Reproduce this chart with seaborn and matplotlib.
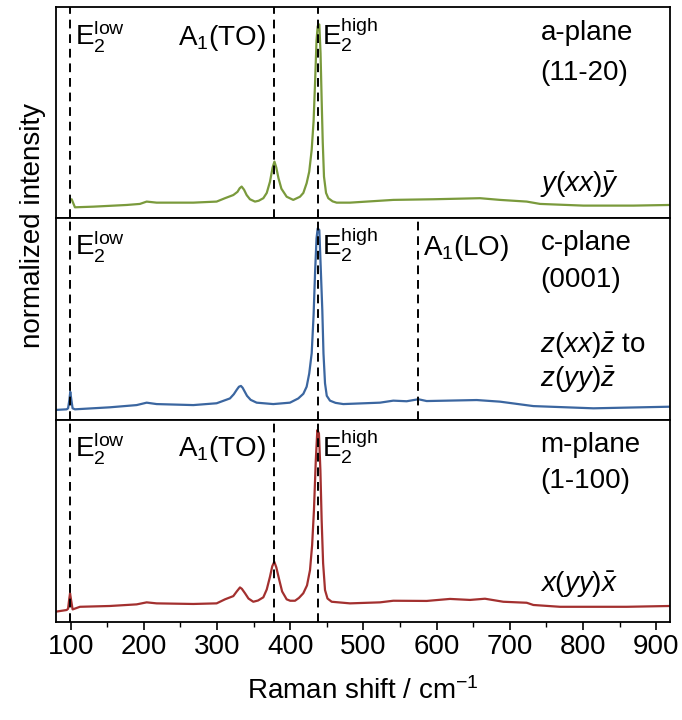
import matplotlib
matplotlib.use("Agg")
import matplotlib.pyplot as plt
import matplotlib.transforms as mtransforms
from matplotlib.ticker import MultipleLocator
import seaborn as sns

# spectra (x: Raman shift, y: fraction of panel height)
a_x = [101.4, 105.9, 130.9, 176.5, 194.7, 203.9, 217.5, 267.6, 299.5, 310.9, 322.3, 328.0,
       331.0, 333.7, 337.0, 340.5, 345.0, 351.9, 357.0, 363.3, 368.0, 372.4, 376.0, 378.5,
       381.0, 384.0, 388.0, 395.2, 404.2, 413.4, 418.0, 422.5, 426.0, 429.4, 432.0, 434.0,
       436.0, 437.6, 439.8, 441.5, 443.0, 444.5, 446.2, 449.0, 452.1, 458.0, 463.5, 481.7,
       541.0, 595.6, 659.4, 686.7, 723.2, 741.4, 800.6, 868.9, 918.0]
a_y = [0.090, 0.052, 0.055, 0.063, 0.068, 0.079, 0.074, 0.074, 0.079, 0.095, 0.110, 0.125,
       0.142, 0.150, 0.135, 0.110, 0.090, 0.079, 0.083, 0.095, 0.120, 0.173, 0.240, 0.268,
       0.240, 0.190, 0.140, 0.102, 0.087, 0.102, 0.120, 0.166, 0.220, 0.324, 0.460, 0.640,
       0.840, 0.908, 0.916, 0.780, 0.561, 0.360, 0.197, 0.120, 0.095, 0.080, 0.074, 0.074,
       0.087, 0.090, 0.095, 0.087, 0.079, 0.068, 0.060, 0.060, 0.063]

c_x = [80.0, 94.5, 96.5, 98.3, 99.5, 101.0, 102.7, 105.9, 153.7, 190.2, 203.9, 217.5,
       267.6, 299.5, 317.7, 323.0, 327.0, 330.0, 332.7, 335.0, 338.0, 341.0, 346.0, 354.2,
       376.9, 399.7, 411.1, 418.0, 422.5, 426.0, 429.4, 432.0, 434.0, 436.0, 437.6, 439.8,
       441.5, 443.9, 445.5, 447.6, 450.0, 454.4, 462.0, 472.6, 522.7, 540.9, 559.2, 575.1,
       586.5, 654.9, 686.7, 732.3, 814.3, 919.0]
c_y = [0.050, 0.053, 0.058, 0.100, 0.140, 0.100, 0.058, 0.053, 0.063, 0.074, 0.086, 0.079,
       0.074, 0.083, 0.107, 0.128, 0.150, 0.165, 0.169, 0.160, 0.140, 0.120, 0.100, 0.086,
       0.079, 0.086, 0.107, 0.130, 0.165, 0.230, 0.331, 0.520, 0.730, 0.900, 0.950, 0.942,
       0.780, 0.545, 0.330, 0.182, 0.120, 0.096, 0.085, 0.079, 0.086, 0.096, 0.093, 0.103,
       0.094, 0.099, 0.091, 0.069, 0.058, 0.066]

m_x = [80.0, 94.5, 96.5, 98.0, 99.2, 100.5, 102.7, 112.7, 153.7, 190.2, 203.9, 217.5,
       267.6, 299.5, 310.9, 322.3, 327.0, 331.4, 334.0, 338.3, 343.0, 349.6, 356.0, 363.3,
       368.0, 372.4, 375.5, 378.3, 381.0, 385.1, 389.0, 395.2, 400.0, 406.6, 412.0, 417.9,
       423.0, 427.1, 430.0, 432.5, 435.0, 437.1, 439.3, 441.3, 443.0, 445.0, 447.6, 451.0,
       456.7, 481.7, 522.7, 540.9, 586.5, 618.4, 645.7, 666.2, 691.2, 723.2, 732.3, 768.7,
       859.9, 919.0]
m_y = [0.050, 0.058, 0.064, 0.110, 0.141, 0.110, 0.061, 0.074, 0.078, 0.086, 0.096, 0.091,
       0.088, 0.091, 0.111, 0.127, 0.150, 0.170, 0.163, 0.141, 0.115, 0.099, 0.105, 0.121,
       0.160, 0.223, 0.275, 0.297, 0.270, 0.207, 0.150, 0.111, 0.104, 0.104, 0.118, 0.141,
       0.180, 0.256, 0.380, 0.554, 0.800, 0.950, 0.934, 0.750, 0.504, 0.290, 0.157, 0.115,
       0.099, 0.091, 0.096, 0.104, 0.103, 0.113, 0.108, 0.114, 0.099, 0.094, 0.083, 0.074,
       0.074, 0.078]

# mode positions (dashed lines)
a_modes = [99, 378, 438]
c_modes = [99, 438, 574]
m_modes = [99, 378, 438]

colors = ["#7a9a3c", "#3b66a0", "#a3302f"]

sns.set_style("ticks")
plt.rcParams["font.family"] = ["Liberation Sans", "DejaVu Sans"]
plt.rcParams["mathtext.fontset"] = "custom"
plt.rcParams["mathtext.rm"] = "Liberation Sans"
plt.rcParams["mathtext.it"] = "Liberation Sans:italic"
plt.rcParams["mathtext.bf"] = "Liberation Sans:bold"
plt.rcParams["text.color"] = "black"
plt.rcParams["axes.labelcolor"] = "black"
plt.rcParams["xtick.color"] = "black"
plt.rcParams["xtick.labelcolor"] = "black"

fs = 20
fig, axes = plt.subplots(3, 1, figsize=(6.82, 7.2), dpi=100, sharex=True,
                         gridspec_kw={"height_ratios": [211.6, 201.7, 201.7]})
fig.subplots_adjust(left=0.0821, right=0.9824, top=0.9907, bottom=0.1365, hspace=0)

panels = [(a_x, a_y, a_modes), (c_x, c_y, c_modes), (m_x, m_y, m_modes)]
for ax, (xs, ys, modes), col in zip(axes, panels, colors):
    sns.lineplot(x=xs, y=ys, ax=ax, color=col, lw=1.6, sort=False)
    for m in modes:
        ax.axvline(m, color="black", lw=1.4, ls=(0, (4.5, 3)))
    ax.set_ylim(0, 1)
    ax.set_yticks([])
    for s in ax.spines.values():
        s.set_visible(True)
        s.set_linewidth(1.3)
        s.set_color("black")
    ax.tick_params(axis="x", which="both", bottom=False, top=False)

axes[0].set_xlim(80, 919)

bx = axes[2]
bx.xaxis.set_major_locator(MultipleLocator(100))
bx.xaxis.set_minor_locator(MultipleLocator(50))
bx.tick_params(axis="x", which="major", bottom=True, direction="out", length=6,
               width=1.2, labelsize=fs, pad=3)
bx.tick_params(axis="x", which="minor", bottom=True, direction="out", length=3.5, width=1.0)
bx.set_xlabel("Raman shift / cm$^{-1}$", fontsize=fs, labelpad=12)

fig.text(33 / 682, 1 - 225 / 720, "normalized intensity", rotation=90,
         ha="center", va="center", fontsize=fs)

e2low = r"E$_2^{\mathrm{low}}$"
e2high = r"E$_2^{\mathrm{high}}$"

for i, ax in enumerate(axes):
    tr = mtransforms.blended_transform_factory(ax.transData, ax.transAxes)
    ax.text(106, 0.82, e2low, transform=tr, fontsize=fs, va="baseline")
    ax.text(444, 0.82, e2high, transform=tr, fontsize=fs, va="baseline")
    if i != 1:
        ax.text(366, 0.82, r"A$_1$(TO)", transform=tr, fontsize=fs, va="baseline", ha="right")
    else:
        ax.text(581, 0.82, r"A$_1$(LO)", transform=tr, fontsize=fs, va="baseline")

axes[0].text(0.789, 0.843, "a-plane", transform=axes[0].transAxes, fontsize=fs, va="baseline")
axes[0].text(0.789, 0.655, "(11-20)", transform=axes[0].transAxes, fontsize=fs, va="baseline")
axes[0].text(0.789, 0.126, r"$y(xx)\bar{y}$", transform=axes[0].transAxes, fontsize=fs,
             va="baseline")

axes[1].text(0.789, 0.843, "c-plane", transform=axes[1].transAxes, fontsize=fs, va="baseline")
axes[1].text(0.789, 0.661, "(0001)", transform=axes[1].transAxes, fontsize=fs, va="baseline")
axes[1].text(0.789, 0.331, r"$z(xx)\bar{z}$ to", transform=axes[1].transAxes, fontsize=fs,
             va="baseline")
axes[1].text(0.789, 0.165, r"$z(yy)\bar{z}$", transform=axes[1].transAxes, fontsize=fs,
             va="baseline")

axes[2].text(0.789, 0.843, "m-plane", transform=axes[2].transAxes, fontsize=fs, va="baseline")
axes[2].text(0.789, 0.661, "(1-100)", transform=axes[2].transAxes, fontsize=fs, va="baseline")
axes[2].text(0.789, 0.149, r"$x(yy)\bar{x}$", transform=axes[2].transAxes, fontsize=fs,
             va="baseline")

fig.savefig("out.png", dpi=100)
